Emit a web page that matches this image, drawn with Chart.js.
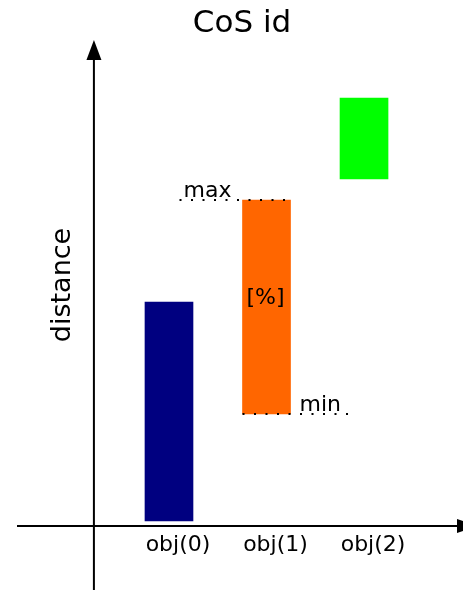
<!DOCTYPE html>
<html>
<head>
<meta charset="utf-8">
<script src="https://cdn.jsdelivr.net/npm/chart.js@4"></script>
<style>
  html, body { margin: 0; padding: 0; background: #fff; }
  canvas { display: block; }
</style>
</head>
<body>
<canvas id="cos" width="463" height="590"></canvas>
<script>
// CoS id — distance ranges per object

const categories = ['obj(0)', 'obj(1)', 'obj(2)'];
const lowValues = [0.5, 11.2, 34.7];
const highValues = [22.4, 32.6, 42.8];
const barColors = ['#000080', '#ff6600', '#00ff00'];
const rangeLabels = { max: 'max', min: 'min', mid: '[%]' };
const titleText = 'CoS id';
const yTitle = 'distance';

const FONT = '"DejaVu Sans", sans-serif';

// axes with arrow heads, labels, min/max markers
const drawing = {
  id: 'drawing',
  afterDatasetsDraw(chart) {
    const ctx = chart.ctx;
    const xs = chart.scales.x, ys = chart.scales.y;
    const W = chart.width, H = chart.height;
    const x0 = xs.getPixelForValue(-0.77);
    const y0 = ys.getPixelForValue(0);

    ctx.save();
    ctx.strokeStyle = '#000';
    ctx.fillStyle = '#000';
    ctx.lineWidth = 2;

    // x axis
    ctx.beginPath();
    ctx.moveTo(17, y0);
    ctx.lineTo(W - 4, y0);
    ctx.stroke();
    ctx.beginPath();
    ctx.moveTo(W + 14, y0);
    ctx.lineTo(W - 6, y0 - 7);
    ctx.lineTo(W - 6, y0 + 7);
    ctx.closePath();
    ctx.fill();

    // y axis
    ctx.beginPath();
    ctx.moveTo(x0, H);
    ctx.lineTo(x0, 58);
    ctx.stroke();
    ctx.beginPath();
    ctx.moveTo(x0, 40);
    ctx.lineTo(x0 - 7.5, 60);
    ctx.lineTo(x0 + 7.5, 60);
    ctx.closePath();
    ctx.fill();

    // title
    ctx.textAlign = 'center';
    ctx.textBaseline = 'alphabetic';
    ctx.font = '31px ' + FONT;
    ctx.fillText(titleText, 242, 32);

    // y title
    ctx.save();
    ctx.translate(70, 285);
    ctx.rotate(-Math.PI / 2);
    ctx.font = '27px ' + FONT;
    ctx.fillText(yTitle, 0, 0);
    ctx.restore();

    // category labels
    ctx.font = '22px ' + FONT;
    categories.forEach((c, i) => {
      ctx.fillText(c, xs.getPixelForValue(i) + 9, y0 + 25);
    });

    // min / max markers on obj(1)
    const bar = chart.getDatasetMeta(0).data[1];
    const left = bar.x - bar.width / 2, right = bar.x + bar.width / 2;
    const yMax = ys.getPixelForValue(highValues[1]);
    const yMin = ys.getPixelForValue(lowValues[1]);

    ctx.lineWidth = 2;
    ctx.setLineDash([2, 9.5]);
    ctx.beginPath();
    ctx.moveTo(left - 63, yMax);
    ctx.lineTo(right, yMax);
    ctx.moveTo(left, yMin);
    ctx.lineTo(right + 66, yMin);
    ctx.stroke();
    ctx.setLineDash([]);

    ctx.font = '22px ' + FONT;
    ctx.textAlign = 'left';
    ctx.fillText(rangeLabels.max, left - 59, yMax - 3);
    ctx.fillText(rangeLabels.min, right + 9, yMin - 3);
    ctx.textAlign = 'center';
    ctx.fillText(rangeLabels.mid, bar.x - 1, (yMax + yMin) / 2 - 3);

    ctx.restore();
  }
};

new Chart(document.getElementById('cos'), {
  type: 'bar',
  data: {
    datasets: [{
      data: categories.map((c, i) => ({ x: i, y: [lowValues[i], highValues[i]] })),
      backgroundColor: barColors,
      borderWidth: 0,
      barThickness: 48,
    }],
  },
  options: {
    responsive: false,
    animation: false,
    layout: { padding: 0 },
    plugins: { legend: { display: false }, tooltip: { enabled: false }, title: { display: false } },
    scales: {
      x: { type: 'linear', offset: false, min: -1.733, max: 3.015, display: false },
      y: { type: 'linear', min: -6.4, max: 52.6, display: false },
    },
  },
  plugins: [drawing],
});
</script>
</body>
</html>
